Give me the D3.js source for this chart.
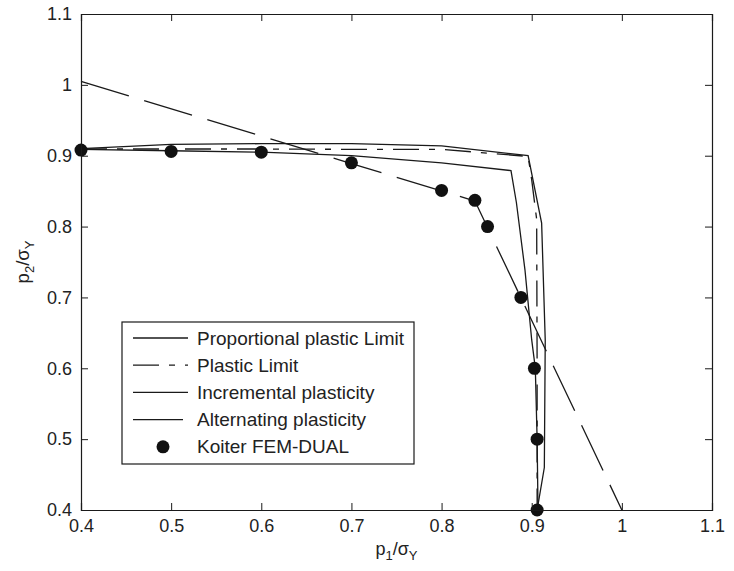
<!DOCTYPE html>
<html>
<head>
<meta charset="utf-8">
<script src="https://cdn.jsdelivr.net/npm/d3@7"></script>
<style>
  body { margin: 0; background: #fff; }
  text { font-family: "Liberation Sans", Arial, Helvetica, sans-serif; fill: #222; }
</style>
</head>
<body>
<div id="chart"></div>
<script>
// interaction domain p2 vs p1, all curves

const xTicks = [0.4, 0.5, 0.6, 0.7, 0.8, 0.9, 1.0, 1.1];
const yTicks = [0.4, 0.5, 0.6, 0.7, 0.8, 0.9, 1.0, 1.1];
const tickLabels = ["0.4", "0.5", "0.6", "0.7", "0.8", "0.9", "1", "1.1"];

const propX = [0.4, 0.5, 0.6, 0.7, 0.8, 0.896, 0.911, 0.915, 0.914, 0.906];
const propY = [0.910, 0.916, 0.917, 0.917, 0.914, 0.900, 0.805, 0.640, 0.460, 0.400];

const plasticX = [0.4, 0.5, 0.6, 0.7, 0.8, 0.896, 0.900, 0.9055, 0.906, 0.906];
const plasticY = [0.9095, 0.9095, 0.9095, 0.909, 0.909, 0.899, 0.866, 0.810, 0.600, 0.400];

const incX = [0.4, 0.5, 0.6, 0.7, 0.8, 0.877, 0.883, 0.8925, 0.900, 0.904, 0.906, 0.907];
const incY = [0.909, 0.907, 0.905, 0.900, 0.890, 0.879, 0.834, 0.739, 0.640, 0.600, 0.500, 0.400];

const altX = [0.4, 0.7, 0.837, 1.0];
const altY = [1.005, 0.889, 0.836, 0.400];

const koiterX = [0.4, 0.5, 0.6, 0.7, 0.8, 0.837, 0.851, 0.888, 0.903, 0.906, 0.906];
const koiterY = [0.908, 0.906, 0.905, 0.890, 0.851, 0.837, 0.800, 0.700, 0.600, 0.500, 0.400];

const seriesNames = ["Proportional plastic Limit", "Plastic Limit", "Incremental plasticity",
                     "Alternating plasticity", "Koiter FEM-DUAL"];

var width = 734,
    height = 571,
    margin = {top: 14, right: 22, bottom: 61, left: 81};

var svg = d3.select("#chart")
  .append("svg")
    .attr("width", width)
    .attr("height", height);

var x = d3.scaleLinear().domain([0.4, 1.1]).range([margin.left, width - margin.right]);
var y = d3.scaleLinear().domain([0.4, 1.1]).range([height - margin.bottom, margin.top]);

var line = d3.line()
  .x(function(d) { return x(d[0]); })
  .y(function(d) { return y(d[1]); });

function pairs(xs, ys) { return xs.map(function(v, i) { return [v, ys[i]]; }); }

var ink = "#1a1a1a";
var curves = [
  {name: seriesNames[0], pts: pairs(propX, propY), dash: null},
  {name: seriesNames[1], pts: pairs(plasticX, plasticY), dash: "26,10,6,10"},
  {name: seriesNames[2], pts: pairs(incX, incY), dash: null},
  {name: seriesNames[3], pts: pairs(altX, altY), dash: "50,16"}
];

var plot = svg.append("g");
plot.selectAll("path.curve")
  .data(curves)
  .enter()
  .append("path")
    .attr("class", "curve")
    .attr("d", function(d) { return line(d.pts); })
    .attr("fill", "none")
    .attr("stroke", ink)
    .attr("stroke-width", 1.3)
    .attr("stroke-dasharray", function(d) { return d.dash; });

plot.selectAll("circle.koiter")
  .data(pairs(koiterX, koiterY))
  .enter()
  .append("circle")
    .attr("class", "koiter")
    .attr("cx", function(d) { return x(d[0]); })
    .attr("cy", function(d) { return y(d[1]); })
    .attr("r", 6.5)
    .attr("fill", "#111");

// axes: ticks inward on all four sides
var tickLen = 7;
svg.append("g")
  .attr("transform", "translate(0," + y(0.4) + ")")
  .call(d3.axisBottom(x).tickValues(xTicks).tickSize(-tickLen).tickPadding(tickLen + 2)
        .tickFormat(function(d, i) { return tickLabels[i]; }));
svg.append("g")
  .attr("transform", "translate(0," + y(1.1) + ")")
  .call(d3.axisTop(x).tickValues(xTicks).tickSize(-tickLen).tickFormat(""));
svg.append("g")
  .attr("transform", "translate(" + x(0.4) + ",0)")
  .call(d3.axisLeft(y).tickValues(yTicks).tickSize(-tickLen).tickPadding(tickLen + 2)
        .tickFormat(function(d, i) { return tickLabels[i]; }));
svg.append("g")
  .attr("transform", "translate(" + x(1.1) + ",0)")
  .call(d3.axisRight(y).tickValues(yTicks).tickSize(-tickLen).tickFormat(""));

svg.selectAll(".domain").attr("stroke", ink).attr("stroke-width", 1.2);
svg.selectAll(".tick line").attr("stroke", ink);
svg.selectAll(".tick text")
  .style("font-family", "'Liberation Sans', Arial, sans-serif")
  .style("font-size", "18px")
  .attr("fill", "#222");

// axis labels with subscripts
var xl = svg.append("text")
  .attr("x", x(0.75))
  .attr("y", 555)
  .attr("text-anchor", "middle")
  .style("font-size", "18px");
xl.append("tspan").text("p");
xl.append("tspan").attr("dy", 5).style("font-size", "13px").text("1");
xl.append("tspan").attr("dy", -5).text("/σ");
xl.append("tspan").attr("dy", 5).style("font-size", "13px").text("Y");

var yl = svg.append("text")
  .attr("transform", "translate(29," + y(0.75) + ") rotate(-90)")
  .attr("text-anchor", "middle")
  .style("font-size", "18.5px");
yl.append("tspan").text("p");
yl.append("tspan").attr("dy", 5).style("font-size", "13px").text("2");
yl.append("tspan").attr("dy", -5).text("/σ");
yl.append("tspan").attr("dy", 5).style("font-size", "13px").text("Y");

// legend
var lg = svg.append("g").attr("transform", "translate(122,322)");
lg.append("rect")
  .attr("width", 292)
  .attr("height", 142)
  .attr("fill", "#fff")
  .attr("stroke", ink)
  .attr("stroke-width", 1.2);

var rowY = function(i) { return 16 + i * 27.2; };
lg.selectAll("line.sample")
  .data(curves)
  .enter()
  .append("line")
    .attr("class", "sample")
    .attr("x1", 11).attr("x2", 66)
    .attr("y1", function(d, i) { return rowY(i); })
    .attr("y2", function(d, i) { return rowY(i); })
    .attr("stroke", ink)
    .attr("stroke-width", 1.3)
    .attr("stroke-dasharray", function(d) { return d.dash; });
lg.append("circle")
  .attr("cx", 41)
  .attr("cy", rowY(4))
  .attr("r", 6.5)
  .attr("fill", "#111");
lg.selectAll("text")
  .data(seriesNames)
  .enter()
  .append("text")
    .attr("x", 75)
    .attr("y", function(d, i) { return rowY(i); })
    .attr("dy", "0.35em")
    .style("font-size", "19px")
    .text(function(d) { return d; });
</script>
</body>
</html>
